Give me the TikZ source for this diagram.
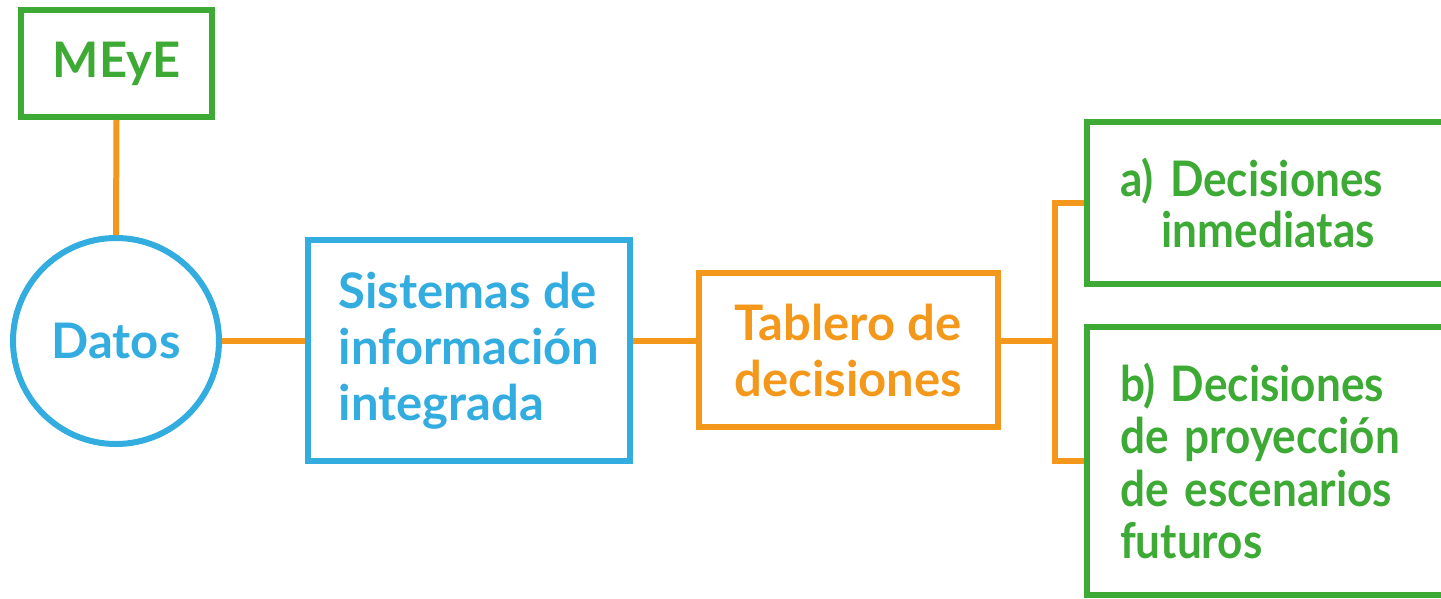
\documentclass[tikz,border=0pt]{standalone}
\usepackage{fontspec}
\setmainfont{Lato}
\newfontfamily\latoestrecha[FakeStretch=0.9]{Lato}
\newcommand\fuenteverde[1]{\latoestrecha\fontsize{49}{#1}\selectfont\bfseries\spaceskip=10pt\relax}
\definecolor{verde}{HTML}{3DAA35}
\definecolor{celeste}{HTML}{33ACE0}
\definecolor{naranja}{HTML}{F3981B}
\begin{document}
\begin{tikzpicture}[x=1pt,y=-1pt,
  caja/.style={draw,line width=6pt,rectangle,inner sep=0pt,font=\fontsize{49}{56}\selectfont\bfseries},
  vcaja/.style={caja,draw=verde,text=verde},
  acaja/.style={caja,draw=celeste,text=celeste},
  ncaja/.style={caja,draw=naranja,text=naranja},
  decision/.style={vcaja,anchor=west,text width=330pt,inner xsep=33pt,align=left},
  enlace/.style={draw=naranja,line width=6pt}]
\clip (0,0) rectangle (1441,598);
\node[vcaja,minimum width=191pt,minimum height=107pt] (meye) at (116.5,63.5) {MEyE};
\node[acaja,circle,minimum size=206pt] (datos) at (116,341) {Datos};
\node[acaja,minimum width=322pt,minimum height=221pt,align=left] (sis) at (469,350.5)
  {Sistemas de\\información\\integrada};
\node[ncaja,minimum width=299pt,minimum height=154pt,align=left] (tab) at (848.5,350)
  {Tablero de\\decisiones};
\node[decision,minimum height=162pt,font=\fuenteverde{51}] (deca) at (1084,203)
  {a) Decisiones\\\hspace*{0.85em}inmediatas};
\node[decision,minimum height=268pt,font=\fuenteverde{52.5}] (decb) at (1084,461)
  {b)\hspace{15pt}Decisiones\\de proyección\\de escenarios\\futuros};
\coordinate (rama) at (1055,341);
\draw[enlace] (meye.south) -- (datos.north);
\draw[enlace] (datos.east) -- (datos.east -| sis.west);
\draw[enlace] (datos.east -| sis.east) -- (datos.east -| tab.west);
\draw[enlace] (datos.east -| tab.east) -- (rama);
\draw[enlace] (deca.west) -| (rama) |- (decb.west);
\end{tikzpicture}
\end{document}
